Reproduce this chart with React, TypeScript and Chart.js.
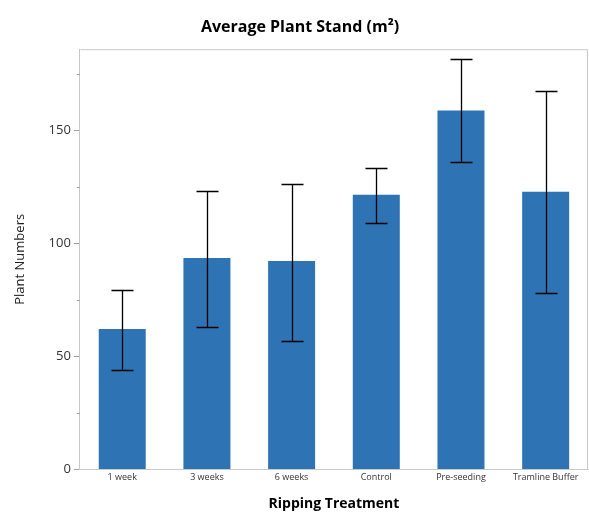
import React, { useEffect, useRef } from "react";
import { Chart, registerables } from "chart.js";

Chart.register(...registerables);

const categories = ["1 week", "3 weeks", "6 weeks", "Control", "Pre-seeding", "Tramline Buffer"];
const means = [62.1, 93.6, 92.3, 121.6, 158.9, 122.9];
const errLow = [43.9, 63.0, 56.8, 109.2, 136.2, 78.1];
const errHigh = [79.4, 123.4, 126.5, 133.6, 181.5, 167.3];
const yTicks = [0, 25, 50, 75, 100, 125, 150, 175];

const FONT = "'Open Sans', 'Noto Sans', sans-serif";

const framePlugin = {
  id: "frame",
  afterDraw(chart: any) {
    const { ctx, chartArea } = chart;
    const ys = chart.scales.y;
    const xs = chart.scales.x;
    ctx.save();
    ctx.strokeStyle = "#c8c8c8";
    ctx.lineWidth = 1;
    ctx.beginPath();
    ctx.moveTo(chartArea.left + 0.5, chartArea.top + 0.5);
    ctx.lineTo(chartArea.right - 0.5, chartArea.top + 0.5);
    ctx.lineTo(chartArea.right - 0.5, chartArea.bottom);
    ctx.stroke();
    ctx.strokeStyle = "#a0a0a0";
    yTicks.forEach((v) => {
      if (v % 50 !== 0) {
        const py = Math.round(ys.getPixelForValue(v)) + 0.5;
        ctx.beginPath();
        ctx.moveTo(chartArea.left - 3, py);
        ctx.lineTo(chartArea.left, py);
        ctx.stroke();
      }
    });
    ctx.strokeStyle = "#000";
    ctx.lineWidth = 1.3;
    categories.forEach((c, i) => {
      const px = Math.round(xs.getPixelForValue(i)) + 0.5;
      const pl = Math.round(ys.getPixelForValue(errLow[i])) + 0.5;
      const ph = Math.round(ys.getPixelForValue(errHigh[i])) + 0.5;
      const w = 11;
      ctx.beginPath();
      ctx.moveTo(px, pl);
      ctx.lineTo(px, ph);
      ctx.moveTo(px - w, pl);
      ctx.lineTo(px + w, pl);
      ctx.moveTo(px - w, ph);
      ctx.lineTo(px + w, ph);
      ctx.stroke();
    });
    ctx.restore();
  },
};

export default function App() {
  const ref = useRef<HTMLCanvasElement | null>(null);
  useEffect(() => {
    if (!ref.current) return;
    const chart = new Chart(ref.current, {
      type: "bar",
      data: {
        labels: categories,
        datasets: [
          {
            data: means,
            backgroundColor: "#2e74b5",
            barPercentage: 0.555,
            categoryPercentage: 1,
          },
        ],
      },
      options: {
        animation: false,
        responsive: false,
        layout: { padding: { left: 12, right: 1, top: 12, bottom: 0 } },
        plugins: {
          legend: { display: false },
          tooltip: { enabled: false },
          title: {
            display: true,
            text: "Average Plant Stand (m²)",
            font: { family: FONT, size: 16, weight: "bold" },
            color: "#000",
            padding: { top: 6, bottom: 12 },
          },
        },
        scales: {
          x: {
            grid: { display: false, drawTicks: false },
            border: { display: true, color: "#c8c8c8" },
            ticks: { font: { family: FONT, size: 9 }, color: "#333", padding: 3, maxRotation: 0 },
            title: {
              display: true,
              text: "Ripping Treatment",
              font: { family: FONT, size: 14, weight: "bold" },
              color: "#000",
              padding: { top: 9, bottom: 0 },
            },
          },
          y: {
            min: 0,
            max: 186,
            afterBuildTicks: (scale: any) => {
              scale.ticks = yTicks.map((v) => ({ value: v }));
            },
            grid: {
              drawOnChartArea: false,
              tickLength: 6,
              tickColor: (c: any) => (c.tick && c.tick.value % 50 === 0 ? "#a0a0a0" : "rgba(0,0,0,0)"),
            },
            border: { display: true, color: "#c8c8c8" },
            ticks: {
              font: { family: FONT, size: 13 },
              color: "#333",
              padding: 3,
              callback: (v: any) => (Number(v) % 50 === 0 ? String(v) : ""),
            },
            title: {
              display: true,
              text: "Plant Numbers",
              font: { family: FONT, size: 13 },
              color: "#222",
              padding: { top: 0, bottom: 18 },
            },
          },
        },
      },
      plugins: [framePlugin],
    });
    return () => chart.destroy();
  }, []);
  return (
    <div style={{ position: "fixed", left: 0, top: 0, width: 589, height: 512, background: "#fff" }}>
      <canvas ref={ref} width={589} height={512} />
    </div>
  );
}
